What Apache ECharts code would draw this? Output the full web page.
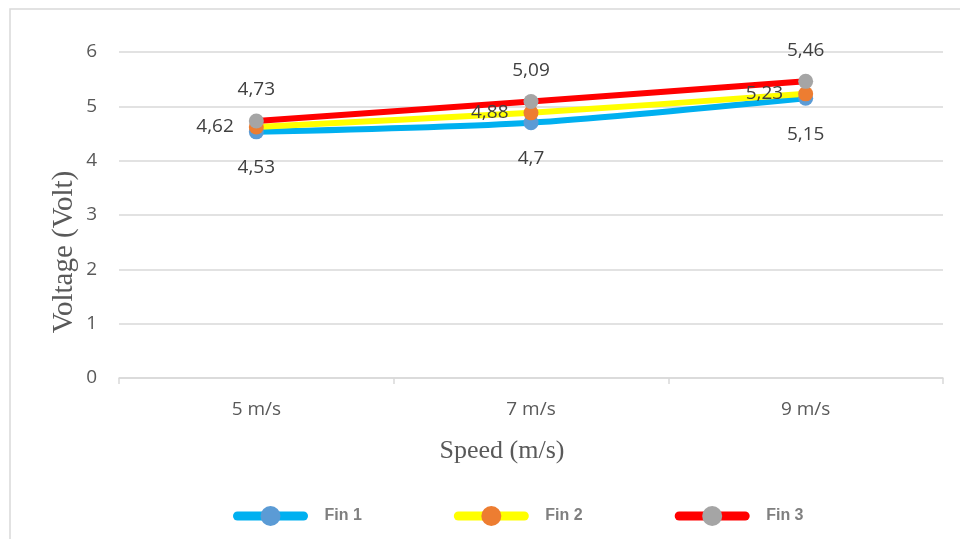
<!DOCTYPE html>
<html>
<head>
<meta charset="utf-8">
<style>
  html, body { margin: 0; padding: 0; background: #ffffff; }
  #chart { width: 960px; height: 539px; }
</style>
<script src="https://cdn.jsdelivr.net/npm/echarts@6/dist/echarts.min.js"></script>
</head>
<body>
<div id="chart"></div>
<script>
// Wind speed categories and measured generator voltage for three fin designs
const speeds = ['5 m/s', '7 m/s', '9 m/s'];
const fin1 = [4.53, 4.7, 5.15];
const fin2 = [4.62, 4.88, 5.23];
const fin3 = [4.73, 5.09, 5.46];
const yTicks = { min: 0, max: 6, interval: 1 };

const labelFont = '"Open Sans", "Noto Sans", sans-serif';
const commaFmt = p => String(p.value).replace('.', ',');

function lineSeries(name, data, lineColor, markerColor, pos, dist) {
  return {
    name: name,
    type: 'line',
    data: data,
    smooth: 0.25,
    symbol: 'circle',
    symbolSize: 15,
    lineStyle: { color: lineColor, width: 6, cap: 'round' },
    itemStyle: { color: markerColor },
    emphasis: { disabled: true },
    label: {
      show: true,
      position: pos,
      distance: dist,
      formatter: commaFmt,
      color: '#404040',
      fontSize: 19,
      fontFamily: labelFont
    }
  };
}

const chart = echarts.init(document.getElementById('chart'));
chart.setOption({
  animation: false,
  backgroundColor: '#ffffff',
  grid: { left: 119, right: 17, top: 52, bottom: 161 },
  xAxis: {
    type: 'category',
    data: speeds,
    boundaryGap: true,
    axisLine: { lineStyle: { color: '#d9d9d9', width: 1.5 } },
    axisTick: { show: true, length: 6, lineStyle: { color: '#d9d9d9', width: 1.5 } },
    axisLabel: { color: '#595959', fontSize: 19, fontFamily: labelFont, margin: 22 }
  },
  yAxis: {
    type: 'value',
    min: yTicks.min,
    max: yTicks.max,
    interval: yTicks.interval,
    axisLine: { show: false },
    axisTick: { show: false },
    splitLine: { lineStyle: { color: '#d9d9d9', width: 1.5 } },
    axisLabel: { color: '#595959', fontSize: 19, fontFamily: labelFont, margin: 22 }
  },
  legend: {
    bottom: 8,
    left: 228,
    itemWidth: 66,
    itemHeight: 25,
    itemGap: 92,
    selectedMode: false,
    lineStyle: { width: 9, cap: 'round' },
    textStyle: { color: '#7f7f7f', fontSize: 16, fontWeight: 'bold', fontFamily: '"Liberation Sans", Arial, sans-serif', padding: [0, 0, 0, 16] },
    data: ['Fin 1', 'Fin 2', 'Fin 3']
  },
  graphic: [
    {
      type: 'rect',
      shape: { x: 10, y: 9, width: 980, height: 560 },
      style: { fill: 'none', stroke: '#d9d9d9', lineWidth: 1.5 },
      silent: true
    },
    {
      type: 'text',
      x: 64, y: 252,
      rotation: Math.PI / 2,
      style: {
        text: 'Voltage (Volt)',
        fill: '#595959',
        font: '29px "Liberation Serif", "Times New Roman", serif',
        align: 'center',
        verticalAlign: 'middle'
      },
      silent: true
    },
    {
      type: 'text',
      x: 502, y: 451,
      style: {
        text: 'Speed (m/s)',
        fill: '#595959',
        font: '26px "Liberation Serif", "Times New Roman", serif',
        align: 'center',
        verticalAlign: 'middle'
      },
      silent: true
    }
  ],
  series: [
    lineSeries('Fin 1', fin1, '#00b0f0', '#5b9bd5', 'bottom', 19),
    lineSeries('Fin 2', fin2, '#ffff00', '#ed7d31', 'left', 15),
    lineSeries('Fin 3', fin3, '#ff0000', '#a5a5a5', 'top', 14)
  ]
});
</script>
</body>
</html>
